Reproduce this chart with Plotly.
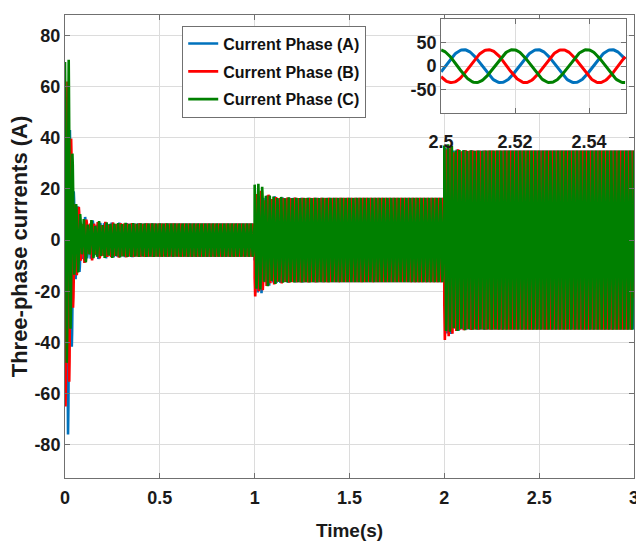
import numpy as np
import plotly.graph_objects as go

# ---- waveform description (A, s, Hz, deg) ----
LINE_FREQ_HZ = 50.0
PHASE_OFFSET_DEG = 10.0
PHASE_LABELS = ["Current Phase (A)", "Current Phase (B)", "Current Phase (C)"]
PHASE_SHIFT_DEG = [-120.0, -240.0, 0.0]
PHASE_COLORS = ["#0072BD", "#FF0000", "#008000"]

# load steps and the steady peak current after each step
STEP_TIMES_S = [0.0, 1.0, 2.0]
STEADY_PEAK_A = [6.5, 16.5, 35.0]

# extremes reached during the first cycle after each step, per phase (A, B, C)
FIRST_CYCLE_MAX_A = [[56.0, 62.0, 70.5], [17.5, 18.0, 22.0], [36.0, 35.5, 37.5]]
FIRST_CYCLE_MIN_A = [[-76.0, -65.0, -48.0], [-20.5, -22.0, -19.0], [-36.5, -39.0, -35.5]]
STEP_DECAY_S = [0.02, 0.03, 0.02]

# decaying sub-synchronous ripple after each step
RIPPLE_PEAK_A = [4.5, 2.5, 1.5]
RIPPLE_DECAY_S = [0.1, 0.06, 0.05]
RIPPLE_FREQ_HZ = 22.0

SAMPLE_RATE_HZ = 4000.0
T_END_S = 3.0

# axis ticks
MAIN_X_TICKS = [0, 0.5, 1, 1.5, 2, 2.5, 3]
MAIN_X_LABELS = ["0", "0.5", "1", "1.5", "2", "2.5", "3"]
MAIN_Y_TICKS = [-80, -60, -40, -20, 0, 20, 40, 60, 80]
MAIN_Y_LABELS = ["-80", "-60", "-40", "-20", "0", "20", "40", "60", "80"]
ZOOM_X_TICKS = [2.5, 2.52, 2.54]
ZOOM_X_LABELS = ["2.5", "2.52", "2.54"]
ZOOM_Y_TICKS = [-50, 0, 50]
ZOOM_Y_LABELS = ["-50", "0", "50"]
ZOOM_WINDOW_S = [2.5, 2.55]

t = np.arange(0.0, T_END_S + 0.5 / SAMPLE_RATE_HZ, 1.0 / SAMPLE_RATE_HZ)
omega = 2 * np.pi * LINE_FREQ_HZ
hold = 1.0 / LINE_FREQ_HZ


def phase_current(k):
    shift = np.deg2rad(PHASE_OFFSET_DEG + PHASE_SHIFT_DEG[k])
    theta = omega * t + shift
    out = np.zeros_like(t)
    bounds = STEP_TIMES_S[1:] + [np.inf]
    for s, (ts, te) in enumerate(zip(STEP_TIMES_S, bounds)):
        seg = (t >= ts) & (t < te)
        u = t[seg] - ts
        amp = STEADY_PEAK_A[s]
        hi, lo = FIRST_CYCLE_MAX_A[s][k], FIRST_CYCLE_MIN_A[s][k]
        extra = (hi - lo) / 2 - amp
        offset = (hi + lo) / 2
        g = np.where(u < hold, 1.0, np.exp(-(u - hold) / STEP_DECAY_S[s]))
        rip = np.where(u < hold, 0.0,
                       RIPPLE_PEAK_A[s] * np.exp(-(u - hold) / RIPPLE_DECAY_S[s]))
        rip = rip * np.cos(2 * np.pi * RIPPLE_FREQ_HZ * u + shift)
        out[seg] = (amp + g * extra) * np.cos(theta[seg]) + g * offset + rip
    return out


currents = [phase_current(k) for k in range(3)]
win = (t >= ZOOM_WINDOW_S[0]) & (t <= ZOOM_WINDOW_S[1])

FONT = "Liberation Sans, Arial, sans-serif"
TXT = "#1a1a1a"
AX = "#707070"
GRID = "#dcdcdc"

fig = go.Figure()
for k in range(3):
    fig.add_trace(go.Scatter(
        x=t, y=currents[k], mode="lines", name=PHASE_LABELS[k],
        legendgroup=PHASE_LABELS[k],
        line=dict(color=PHASE_COLORS[k], width=2.6), xaxis="x", yaxis="y"))
for k in range(3):
    fig.add_trace(go.Scatter(
        x=t[win], y=currents[k][win], mode="lines", showlegend=False,
        line=dict(color=PHASE_COLORS[k], width=3), xaxis="x2", yaxis="y2"))

tickfont = dict(family=FONT, size=18, color=TXT, weight="bold")
common = dict(showline=True, linecolor=AX, linewidth=1, mirror="ticks",
              ticks="inside", ticklen=5, tickcolor=AX, showgrid=True,
              gridcolor=GRID, gridwidth=1, zeroline=False, tickfont=tickfont,
              ticklabeloverflow="allow", automargin=False)

fig.update_layout(
    width=636, height=546,
    margin=dict(l=65, r=2, t=15, b=68),
    paper_bgcolor="white", plot_bgcolor="white",
    showlegend=True,
    legend=dict(x=0.206, y=0.977, xanchor="left", yanchor="top",
                bgcolor="white", bordercolor=AX, borderwidth=1,
                font=dict(family=FONT, size=16, color="#111111", weight="bold"),
                tracegroupgap=4),
    xaxis=dict(domain=[0, 1], range=[0, 3], tickvals=MAIN_X_TICKS,
               ticktext=MAIN_X_LABELS, anchor="y", ticklabelstandoff=3,
               title=dict(text="Time(s)", standoff=17,
                          font=dict(family=FONT, size=19, color=TXT, weight="bold")),
               **common),
    yaxis=dict(domain=[0, 1], range=[-93, 88], tickvals=MAIN_Y_TICKS,
               ticktext=MAIN_Y_LABELS, anchor="x",
               title=dict(text="Three-phase currents (A)", standoff=0,
                          font=dict(family=FONT, size=22, color=TXT, weight="bold")),
               **common),
    xaxis2=dict(domain=[0.661, 0.986], range=ZOOM_WINDOW_S, tickvals=ZOOM_X_TICKS,
                ticktext=ZOOM_X_LABELS, anchor="y2", ticklabelstandoff=12, **common),
    yaxis2=dict(domain=[0.788, 0.991], range=[-100, 100], tickvals=ZOOM_Y_TICKS,
                ticktext=ZOOM_Y_LABELS, anchor="x2", **common),
)

fig.write_html("out.html")
